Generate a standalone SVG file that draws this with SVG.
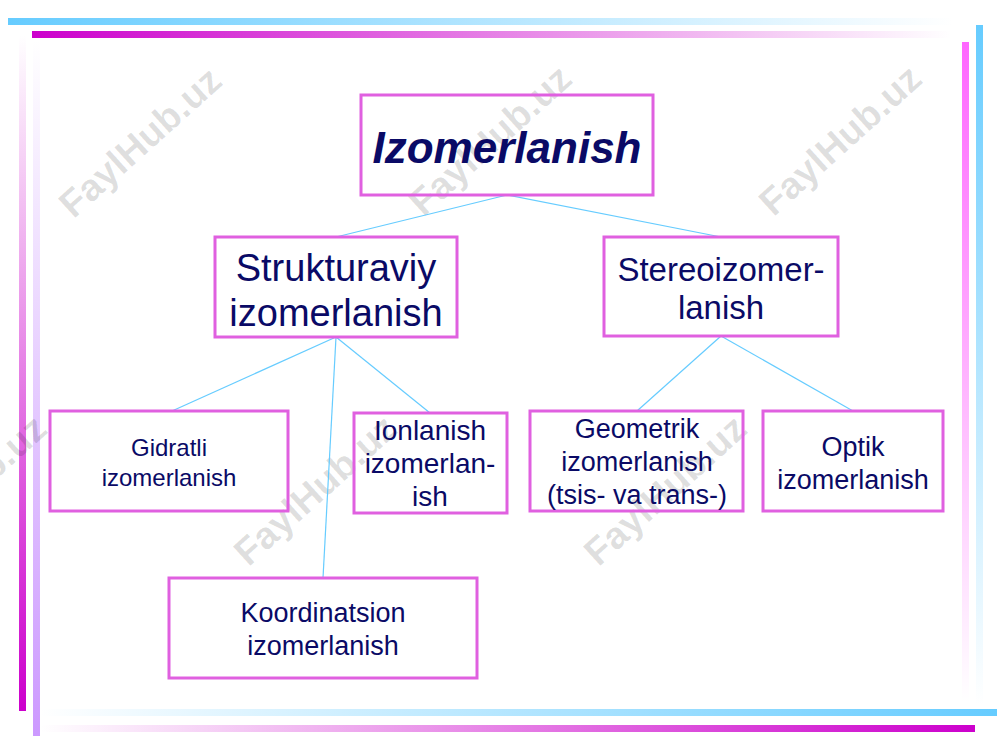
<svg xmlns="http://www.w3.org/2000/svg" width="1000" height="750" viewBox="0 0 1000 750">
<defs>
<linearGradient id="gCyanR" x1="0" y1="0" x2="1" y2="0"><stop offset="0" stop-color="#66ccff"/><stop offset="1" stop-color="#66ccff" stop-opacity="0"/></linearGradient>
<linearGradient id="gMagR" x1="0" y1="0" x2="1" y2="0"><stop offset="0" stop-color="#cc00cc"/><stop offset="1" stop-color="#cc00cc" stop-opacity="0"/></linearGradient>
<linearGradient id="gCyanL" x1="1" y1="0" x2="0" y2="0"><stop offset="0" stop-color="#66ccff"/><stop offset="1" stop-color="#66ccff" stop-opacity="0"/></linearGradient>
<linearGradient id="gMagL" x1="1" y1="0" x2="0" y2="0"><stop offset="0" stop-color="#cc00cc"/><stop offset="1" stop-color="#cc00cc" stop-opacity="0"/></linearGradient>
<linearGradient id="gPinkD" x1="0" y1="0" x2="0" y2="1"><stop offset="0" stop-color="#ff66ff"/><stop offset="1" stop-color="#ff66ff" stop-opacity="0"/></linearGradient>
<linearGradient id="gCyanD" x1="0" y1="0" x2="0" y2="1"><stop offset="0" stop-color="#66ccff"/><stop offset="1" stop-color="#66ccff" stop-opacity="0"/></linearGradient>
<linearGradient id="gMagU" x1="0" y1="1" x2="0" y2="0"><stop offset="0" stop-color="#cc00cc"/><stop offset="1" stop-color="#cc00cc" stop-opacity="0"/></linearGradient>
<linearGradient id="gLavU" x1="0" y1="1" x2="0" y2="0"><stop offset="0" stop-color="#cc99ff"/><stop offset="1" stop-color="#cc99ff" stop-opacity="0"/></linearGradient>
</defs>
<style>
.box{fill:none;stroke:#e060e0;stroke-width:3}
.t{font-family:"Liberation Sans",Arial,sans-serif;fill:#0a0a66;text-anchor:middle}
.wm{font-family:"Liberation Sans",Arial,sans-serif;font-weight:bold;fill:#000;fill-opacity:0.13;font-size:38px;text-anchor:middle}
.c{stroke:#66ccff;stroke-width:1.2;fill:none}
</style>
<rect width="1000" height="750" fill="#ffffff"/>
<g id="frame">
<rect x="8" y="18" width="945" height="7" fill="url(#gCyanR)"/>
<rect x="32" y="31" width="920" height="7" fill="url(#gMagR)"/>
<rect x="962" y="42" width="7" height="660" fill="url(#gPinkD)"/>
<rect x="976" y="25" width="7" height="680" fill="url(#gCyanD)"/>
<rect x="40" y="709" width="957" height="7" fill="url(#gCyanL)"/>
<rect x="40" y="725" width="935" height="7" fill="url(#gMagL)"/>
<rect x="19" y="35" width="7" height="676" fill="url(#gMagU)"/>
<rect x="33" y="40" width="7" height="696" fill="url(#gLavU)"/>
</g>
<g id="watermarks">
<text class="wm" transform="translate(140,142) rotate(-42)" dy="13">FaylHub.uz</text>
<text class="wm" transform="translate(490,140) rotate(-42)" dy="13">FaylHub.uz</text>
<text class="wm" transform="translate(840,140) rotate(-42)" dy="13">FaylHub.uz</text>
<text class="wm" transform="translate(-35,490) rotate(-42)" dy="13">FaylHub.uz</text>
<text class="wm" transform="translate(315,490) rotate(-42)" dy="13">FaylHub.uz</text>
<text class="wm" transform="translate(665,490) rotate(-42)" dy="13">FaylHub.uz</text>
</g>
<g id="connectors">
<line class="c" x1="507" y1="195" x2="336" y2="237"/>
<line class="c" x1="507" y1="195" x2="721" y2="237"/>
<line class="c" x1="336" y1="337" x2="172" y2="411"/>
<line class="c" x1="336" y1="337" x2="430" y2="413"/>
<line class="c" x1="336" y1="337" x2="323" y2="578"/>
<line class="c" x1="721" y1="336" x2="637" y2="411"/>
<line class="c" x1="721" y1="336" x2="853" y2="411"/>
</g>
<g id="n-izomerlanish">
<rect class="box" x="361" y="95" width="292" height="100"/>
<text class="t" x="507" y="163" font-size="44" font-weight="bold" font-style="italic">Izomerlanish</text>
</g>
<g id="n-strukturaviy">
<rect class="box" x="215" y="237" width="242" height="100"/>
<text class="t" x="336" y="281" font-size="38">Strukturaviy</text>
<text class="t" x="336" y="326" font-size="38">izomerlanish</text>
</g>
<g id="n-stereo">
<rect class="box" x="604" y="237" width="234" height="99"/>
<text class="t" x="721" y="281" font-size="33">Stereoizomer-</text>
<text class="t" x="721" y="319" font-size="33">lanish</text>
</g>
<g id="n-gidratli">
<rect class="box" x="50" y="411" width="238" height="100"/>
<text class="t" x="169" y="456" font-size="24">Gidratli</text>
<text class="t" x="169" y="486" font-size="24">izomerlanish</text>
</g>
<g id="n-ionlanish">
<rect class="box" x="354" y="413" width="153" height="100"/>
<text class="t" x="430" y="440" font-size="28">Ionlanish</text>
<text class="t" x="430" y="473" font-size="28">izomerlan-</text>
<text class="t" x="430" y="506" font-size="28">ish</text>
</g>
<g id="n-geometrik">
<rect class="box" x="530" y="411" width="213" height="100"/>
<text class="t" x="637" y="438" font-size="27">Geometrik</text>
<text class="t" x="637" y="471" font-size="27">izomerlanish</text>
<text class="t" x="637" y="504" font-size="27">(tsis- va trans-)</text>
</g>
<g id="n-optik">
<rect class="box" x="763" y="411" width="180" height="100"/>
<text class="t" x="853" y="456" font-size="27">Optik</text>
<text class="t" x="853" y="489" font-size="27">izomerlanish</text>
</g>
<g id="n-koordinatsion">
<rect class="box" x="169" y="578" width="308" height="100"/>
<text class="t" x="323" y="622" font-size="27">Koordinatsion</text>
<text class="t" x="323" y="655" font-size="27">izomerlanish</text>
</g>
</svg>
